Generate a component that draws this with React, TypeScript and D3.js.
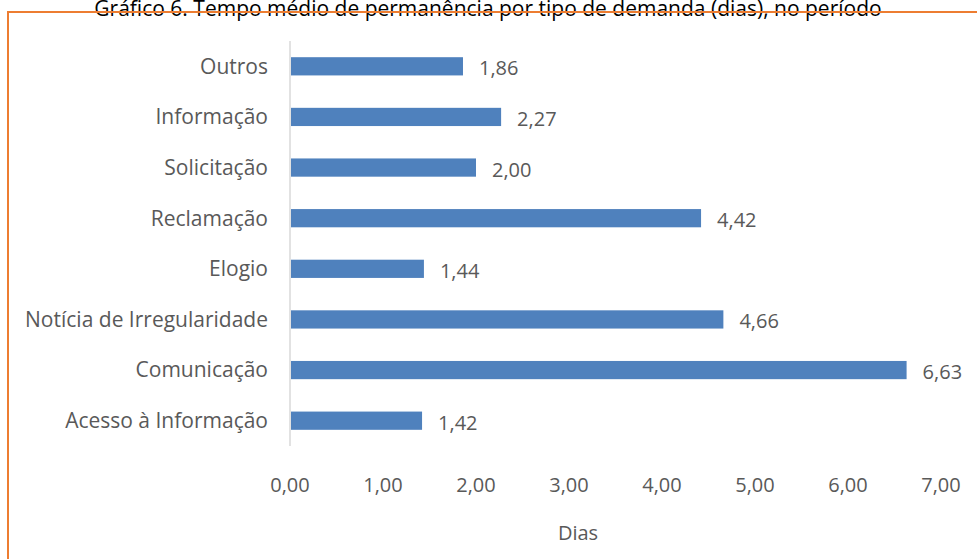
import React from "react";
import * as d3 from "d3";

const categories = [
  "Outros",
  "Informação",
  "Solicitação",
  "Reclamação",
  "Elogio",
  "Notícia de Irregularidade",
  "Comunicação",
  "Acesso à Informação",
];
const values = [1.86, 2.27, 2.0, 4.42, 1.44, 4.66, 6.63, 1.42];
const xTicks = [0, 1, 2, 3, 4, 5, 6, 7];
const title = "Gráfico 6. Tempo médio de permanência por tipo de demanda (dias), no período";
const xTitle = "Dias";

const W = 977;
const H = 559;
const FONT = "'Open Sans', 'Noto Sans', sans-serif";
const TXT = "#595959";

export default function App() {
  const x = d3.scaleLinear().domain([0, 7]).range([290, 941]);
  const y = d3.scaleBand<string>().domain(categories).range([41, 446]).paddingInner(0.64).paddingOuter(0.32);
  const fmt = (v: number) => d3.format(".2f")(v).replace(".", ",");
  return (
    <svg
      width={W}
      height={H}
      style={{ position: "absolute", left: 0, top: 0, background: "#fff" }}
      fontFamily={FONT}
    >
      <rect x={0} y={0} width={W} height={H} fill="#fff" />
      <text x={488} y={16} textAnchor="middle" fontSize={21} fill="#000">
        {title}
      </text>
      <rect x={8} y={12} width={1100} height={700} fill="none" stroke="#ED7D31" strokeWidth={2} />
      <line x1={x(0)} x2={x(0)} y1={41} y2={446} stroke="#d9d9d9" strokeWidth={1.5} />
      {categories.map((c, i) => {
        const yy = y(c)!;
        const bw = y.bandwidth();
        return (
          <g key={c}>
            <rect x={x(0) + 1} y={yy} width={x(values[i]) - x(0) - 1} height={bw} fill="#4F81BD" />
            <text x={268} y={yy + bw / 2} dy="0.35em" textAnchor="end" fontSize={21} fill={TXT}>
              {c}
            </text>
            <text x={x(values[i]) + 16} y={yy + bw / 2 + 2} dy="0.35em" fontSize={20} fill={TXT}>
              {fmt(values[i])}
            </text>
          </g>
        );
      })}
      {xTicks.map((t) => (
        <text key={t} x={x(t)} y={485} dy="0.35em" textAnchor="middle" fontSize={20} fill={TXT}>
          {fmt(t)}
        </text>
      ))}
      <text x={578} y={533} dy="0.35em" textAnchor="middle" fontSize={20} fill={TXT}>
        {xTitle}
      </text>
    </svg>
  );
}
